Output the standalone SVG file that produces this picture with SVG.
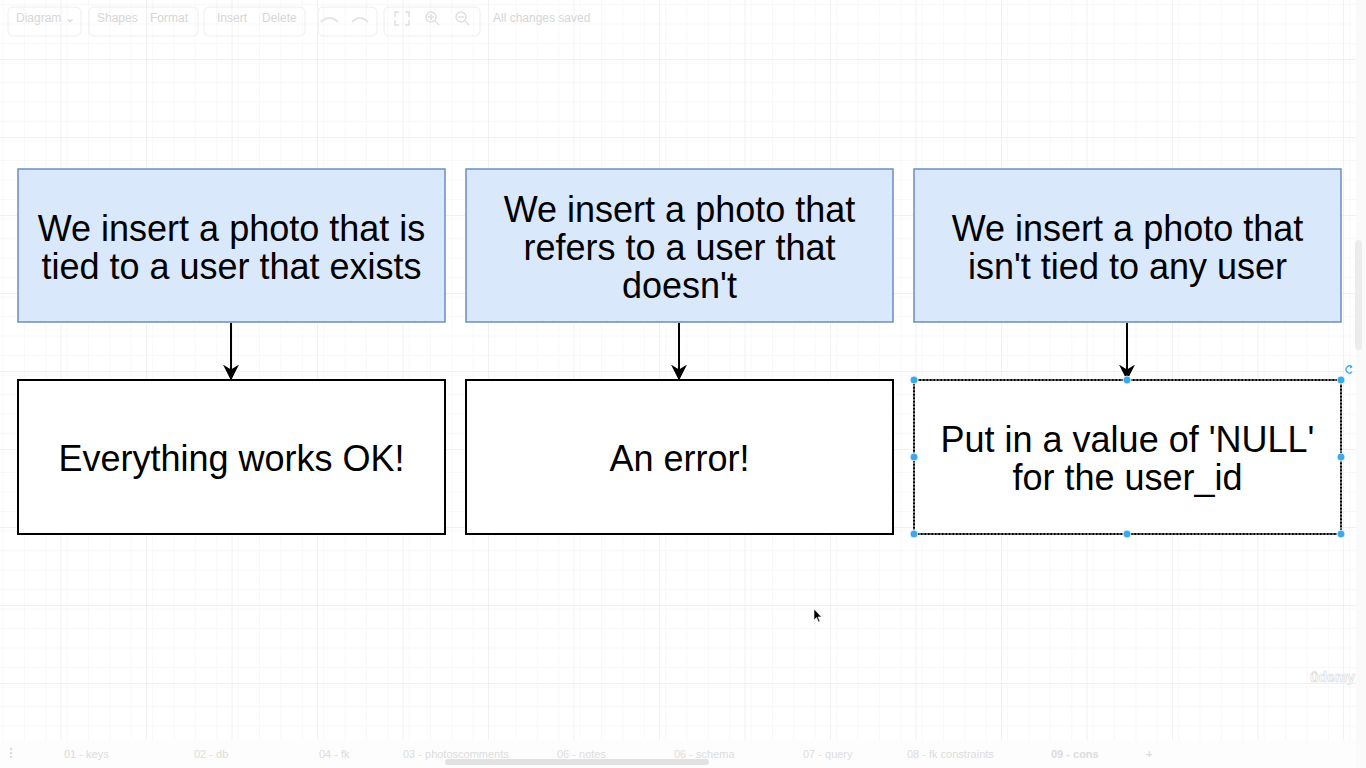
<svg xmlns="http://www.w3.org/2000/svg" width="1366" height="768" viewBox="0 0 1366 768">
<defs>
<pattern id="minor" width="21.375" height="19.5" patternUnits="userSpaceOnUse" x="3.5" y="5">
<path d="M21.375 0V19.5M0 19.5H21.375" fill="none" stroke="#f2f2f2" stroke-width="1"/>
</pattern>
<pattern id="major" width="85.5" height="78" patternUnits="userSpaceOnUse" x="60.5" y="59">
<path d="M0 0V78M0 0H85.5" fill="none" stroke="#e4e4e4" stroke-width="1"/>
</pattern>
<marker id="arr" viewBox="0 0 10 10" refX="9" refY="5" markerWidth="8" markerHeight="8" orient="auto" markerUnits="strokeWidth">
<path d="M0 0L10 5L0 10L3 5Z" fill="#000"/>
</marker>
</defs>
<style>
.ui{font-family:"Liberation Sans",Arial,sans-serif;font-size:12px;fill:#d6d6d6}
.tab{font-family:"Liberation Sans",Arial,sans-serif;font-size:11px;fill:#dcdcdc}
.top{fill:#dae8fc;stroke:#6c8ebf;stroke-width:1.5}
.bot{fill:#ffffff;stroke:#000;stroke-width:2}
.lbl{font-family:"Liberation Sans",Arial,sans-serif;font-size:36px;fill:#000;text-anchor:middle}
.edge{stroke:#000;stroke-width:2;fill:none;marker-end:url(#arr)}
.h{fill:#3ea8ee;stroke:#fff;stroke-width:0.8}
.btn{fill:none;stroke:#eeeeee;stroke-width:1}
</style>
<rect width="1366" height="768" fill="#ffffff"/>
<rect width="1356" height="740" fill="url(#minor)"/>
<rect width="1356" height="740" fill="url(#major)"/>
<!-- toolbar -->
<g id="toolbar">
<rect x="8" y="7" width="73" height="29" rx="5" class="btn"/>
<text class="ui" x="16" y="22">Diagram ⌄</text>
<rect x="89" y="7" width="109" height="29" rx="5" class="btn"/>
<text class="ui" x="97" y="22">Shapes</text>
<text class="ui" x="150" y="22">Format</text>
<rect x="204" y="7" width="101" height="29" rx="5" class="btn"/>
<text class="ui" x="217" y="22">Insert</text>
<text class="ui" x="262" y="22">Delete</text>
<rect x="318" y="7" width="59" height="29" rx="5" class="btn"/>
<path d="M321 22q8-8 17 0M368 22q-8-8-16 0" fill="none" stroke="#e4e4e4" stroke-width="2"/>
<rect x="384" y="7" width="96" height="29" rx="5" class="btn"/>
<path d="M399 12h-4v5M399 25h-4v-5M405 12h4v5M405 25h4v-5" fill="none" stroke="#e0e0e0" stroke-width="1.5"/>
<circle cx="431" cy="17" r="5" fill="none" stroke="#e0e0e0" stroke-width="1.5"/>
<path d="M435 21l4 4M428 17h6M431 14v6" stroke="#e0e0e0" stroke-width="1.5"/>
<circle cx="461" cy="17" r="5" fill="none" stroke="#e0e0e0" stroke-width="1.5"/>
<path d="M465 21l4 4M458 17h6" stroke="#e0e0e0" stroke-width="1.5"/>
<text class="ui" x="493" y="22">All changes saved</text>
</g>
<!-- right scrollbar -->
<rect x="1356" y="0" width="10" height="768" fill="#fafafa"/>
<rect x="1355" y="240" width="7" height="110" rx="3.5" fill="#ececec"/>
<!-- connectors -->
<g id="connectors">
<path class="edge" d="M231 323V379"/>
<path class="edge" d="M679 323V379"/>
<path class="edge" d="M1127 323V379"/>
</g>
<g id="n1">
<rect class="top" x="18" y="169" width="427" height="153"/>
<text class="lbl" x="231.5" y="241">We insert a photo that is</text>
<text class="lbl" x="231.5" y="279">tied to a user that exists</text>
</g>
<g id="n2">
<rect class="top" x="466" y="169" width="427" height="153"/>
<text class="lbl" x="679.5" y="222">We insert a photo that</text>
<text class="lbl" x="679.5" y="260">refers to a user that</text>
<text class="lbl" x="679.5" y="298">doesn't</text>
</g>
<g id="n3">
<rect class="top" x="914" y="169" width="427" height="153"/>
<text class="lbl" x="1127.5" y="241">We insert a photo that</text>
<text class="lbl" x="1127.5" y="279">isn't tied to any user</text>
</g>
<g id="n4">
<rect class="bot" x="18" y="380" width="427" height="154"/>
<text class="lbl" x="231.5" y="471">Everything works OK!</text>
</g>
<g id="n5">
<rect class="bot" x="466" y="380" width="427" height="154"/>
<text class="lbl" x="679.5" y="471">An error!</text>
</g>
<g id="n6">
<rect class="bot" x="914" y="380" width="427" height="154"/>
<rect x="914" y="380" width="427" height="154" fill="none" stroke="#bbbbbb" stroke-width="1.2" stroke-dasharray="2 1.5"/>
<text class="lbl" x="1127.5" y="452">Put in a value of 'NULL'</text>
<text class="lbl" x="1127.5" y="490">for the user_id</text>
</g>
<g id="selection">
<circle class="h" cx="914" cy="380" r="4"/>
<circle class="h" cx="1127" cy="380" r="4"/>
<circle class="h" cx="1341" cy="380" r="4"/>
<circle class="h" cx="914" cy="457" r="4"/>
<circle class="h" cx="1341" cy="457" r="4"/>
<circle class="h" cx="914" cy="534" r="4"/>
<circle class="h" cx="1127" cy="534" r="4"/>
<circle class="h" cx="1341" cy="534" r="4"/>
<path d="M1352 367a3.5 3.5 0 1 0 0 5" fill="none" stroke="#3ea8ee" stroke-width="1.3"/>
<path d="M1350 365l2.5 2-2.5 1.5z" fill="#3ea8ee"/>
</g>
<!-- cursor -->
<path d="M814 609v11l2.5-2.5 2 4.5 1.5-0.7-2-4.3h3.5z" fill="#000" stroke="#fff" stroke-width="0.6"/>
<!-- watermark -->
<text x="1310" y="682" font-family="'Liberation Sans',Arial,sans-serif" font-size="14" font-weight="bold" fill="#ffffff" stroke="#d8d8d8" stroke-width="0.6">ûdemy</text>
<!-- bottom tabs -->
<g id="tabs">
<rect x="0" y="740" width="1356" height="28" fill="#fbfbfb" opacity="0.6"/>
<circle cx="11" cy="749" r="1.2" fill="#dcdcdc"/><circle cx="11" cy="753" r="1.2" fill="#dcdcdc"/><circle cx="11" cy="757" r="1.2" fill="#dcdcdc"/>
<text class="tab" x="64" y="758">01 - keys</text>
<text class="tab" x="194" y="758">02 - db</text>
<text class="tab" x="319" y="758">04 - fk</text>
<text class="tab" x="403" y="758">03 - photoscomments</text>
<text class="tab" x="557" y="758">06 - notes</text>
<text class="tab" x="674" y="758">06 - schema</text>
<text class="tab" x="803" y="758">07 - query</text>
<text class="tab" x="907" y="758">08 - fk constraints</text>
<text class="tab" x="1051" y="758" font-weight="bold" fill="#cfcfcf">09 - cons</text>
<text class="tab" x="1146" y="758" font-size="16" font-weight="bold">+</text>
<rect x="445" y="759" width="264" height="6" rx="3" fill="#e2e2e2"/>
</g>
</svg>
